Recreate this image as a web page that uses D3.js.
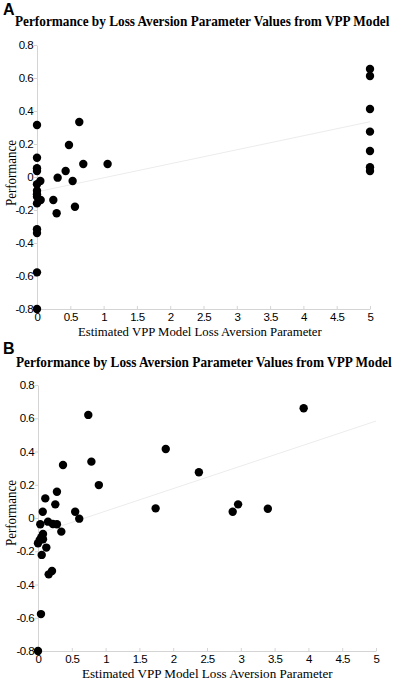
<!DOCTYPE html>
<html><head><meta charset="utf-8">
<script src="https://cdn.jsdelivr.net/npm/d3@7"></script>
<style>body{margin:0;background:#fff}</style>
</head><body><svg id="c" width="397" height="680"></svg>
<script>
// Panel A data
const aX = [0, 0, 0, 0, 0, 0, 0, 0, 0, 0, 0, 0, 0, 0.05, 0.055,
  0.48, 0.635, 0.695, 1.06, 0.43, 0.31, 0.535, 0.245, 0.57, 0.295,
  5, 5, 5, 5, 5, 5, 5];
const aY = [0.315, 0.117, 0.053, 0.036, -0.044, -0.083, -0.105, -0.119, -0.16, -0.317, -0.34, -0.578, -0.8, -0.024, -0.139,
  0.194, 0.333, 0.079, 0.079, 0.036, -0.004, -0.024, -0.139, -0.18, -0.22,
  0.655, 0.612, 0.412, 0.275, 0.158, 0.059, 0.036];
// Panel B data
const bX = [0.9, 0.28, 0.108, 0.256, 0.07, 0.55, 0.61, 0.034, 0.148, 0.22, 0.28, 0.345, 0.074, 0.05, 0.025, 0.074, 0, 0.123, 0.055, 0.207, 0.158,
  0.744, 0.79, 0.37, 1.74, 1.89, 2.38, 3.93, 2.96, 2.88, 3.40, 0.044, 0];
const bY = [0.198, 0.158, 0.118, 0.082, 0.038, 0.038, -0.004, -0.038, -0.022, -0.036, -0.038, -0.082, -0.096, -0.116, -0.132, -0.128, -0.152, -0.178, -0.222, -0.319, -0.339,
  0.62, 0.339, 0.319, 0.058, 0.415, 0.275, 0.66, 0.082, 0.038, 0.056, -0.578, -0.8];
// Trend lines (read endpoints)
const trendAX = [0, 5], trendAY = [-0.09, 0.335];
const trendBX = [0, 5], trendBY = [-0.094, 0.583];
// Ticks
const xTicks = [0, 0.5, 1, 1.5, 2, 2.5, 3, 3.5, 4, 4.5, 5];
const xTickLabels = ["0", "0.5", "1", "1.5", "2", "2.5", "3", "3.5", "4", "4.5", "5"];
const yTicks = [0.8, 0.6, 0.4, 0.2, 0, -0.2, -0.4, -0.6, -0.8];
const yTickLabels = ["0.8", "0.6", "0.4", "0.2", "0", "-0.2", "-0.4", "-0.6", "-0.8"];
const titleText = "Performance by Loss Aversion Parameter Values from VPP Model";
const xTitle = "Estimated VPP Model Loss Aversion Parameter";
const yTitle = "Performance";

const svg = d3.select("#c");
const axisColor = "#d4d4d4";

// condensed text: scale horizontally to a target width
function squeezed(g, str, x, y, w, size, weight, rotate) {
  const t = g.append("text").text(str)
    .attr("font-family", "Liberation Serif, Times New Roman, serif")
    .attr("font-weight", weight).attr("font-size", size).attr("fill", "#000");
  const len = t.node().getComputedTextLength();
  const k = w / len;
  if (rotate) {
    t.attr("text-anchor", "middle").attr("transform", `translate(${x},${y}) rotate(-90) scale(${k},1)`);
  } else {
    t.attr("transform", `translate(${x},${y}) scale(${k},1)`);
  }
  return t;
}

function panel(cfg) {
  const g = svg.append("g");
  const x = d3.scaleLinear().domain([0, 5]).range([cfg.x0, cfg.x1]);
  const y = d3.scaleLinear().domain([-0.8, 0.8]).range([cfg.y0, cfg.y1]);

  g.append("text").attr("x", 3).attr("y", cfg.letterY).text(cfg.letter)
    .attr("font-family", "Liberation Sans, Arial, sans-serif").attr("font-weight", "bold")
    .attr("font-size", 16).attr("fill", "#000");
  squeezed(g, titleText, cfg.titleX0, cfg.titleY, cfg.titleW, 14.5, "bold", false);

  const xa = g.append("g").attr("transform", `translate(0,${cfg.y0})`)
    .call(d3.axisBottom(x).tickValues(xTicks).tickFormat((d, i) => xTickLabels[i])
      .tickSizeInner(-3).tickSizeOuter(0).tickPadding(4));
  const ya = g.append("g").attr("transform", `translate(${cfg.x0},0)`)
    .call(d3.axisLeft(y).tickValues(yTicks).tickFormat((d, i) => yTickLabels[i])
      .tickSizeInner(3).tickSizeOuter(0).tickPadding(1));
  [xa, ya].forEach(a => {
    a.select(".domain").attr("stroke", axisColor);
    a.selectAll(".tick line").attr("stroke", axisColor);
    a.selectAll(".tick text").attr("fill", "#000").attr("font-size", 11.5)
      .attr("font-family", "Liberation Sans, Arial, sans-serif").attr("letter-spacing", -0.6);
  });

  squeezed(g, xTitle, cfg.xtX, cfg.xtY, cfg.xtW, 13.5, "normal", false);
  squeezed(g, yTitle, cfg.ytX, cfg.ytY, 66, 14, "normal", true);

  g.append("line")
    .attr("x1", x(cfg.tx[0])).attr("y1", y(cfg.ty[0]))
    .attr("x2", x(cfg.tx[1])).attr("y2", y(cfg.ty[1]))
    .attr("stroke", "#ececec").attr("stroke-width", 1);

  g.selectAll("circle.pt").data(cfg.xs.map((v, i) => [v, cfg.ys[i]])).join("circle")
    .attr("class", "pt").attr("cx", d => x(d[0])).attr("cy", d => y(d[1])).attr("r", 4.2)
    .attr("fill", "#000");
}

panel({letter: "A", letterY: 15, titleX0: 15, titleY: 26, titleW: 375,
  x0: 37, x1: 370, y0: 309, y1: 45,
  xtX: 78, xtY: 336, xtW: 244, ytX: 16, ytY: 173,
  xs: aX, ys: aY, tx: trendAX, ty: trendAY});
panel({letter: "B", letterY: 354, titleX0: 16, titleY: 367, titleW: 376,
  x0: 38, x1: 376, y0: 651, y1: 385,
  xtX: 82, xtY: 678, xtW: 251, ytX: 16, ytY: 513,
  xs: bX, ys: bY, tx: trendBX, ty: trendBY});
</script></body></html>
